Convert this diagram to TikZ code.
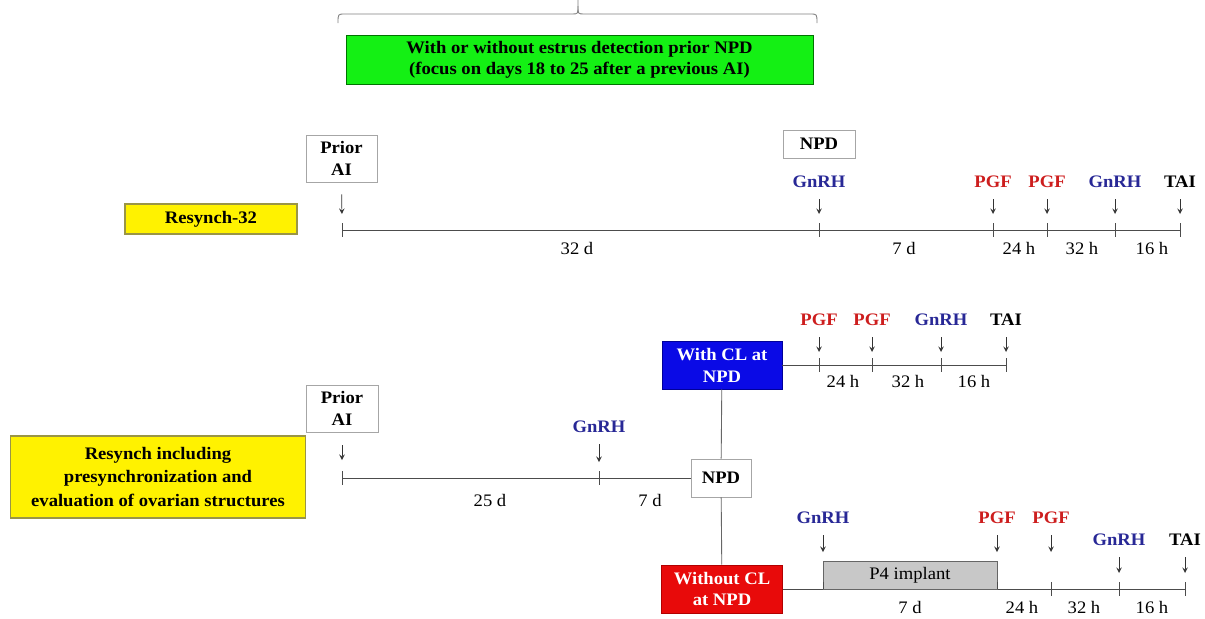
\documentclass[tikz,border=0pt]{standalone}
\usepackage{fontspec}
\setmainfont[FakeStretch=1.06]{Liberation Serif}
\usetikzlibrary{arrows}
\definecolor{gnrhblue}{RGB}{40,40,150}
\definecolor{pgfred}{RGB}{205,30,30}
\definecolor{detgreen}{RGB}{20,240,20}
\definecolor{clblue}{RGB}{10,10,230}
\definecolor{clred}{RGB}{232,10,10}
\definecolor{implgray}{RGB}{200,200,200}
\tikzstyle{protocol} = [rectangle, draw=black!45!yellow, fill=yellow, align=center, line width=0.6pt, font=\bfseries\fontsize{10}{13.6}\selectfont]
\tikzstyle{event} = [rectangle, draw=black!35, fill=white, align=center, inner sep=1pt, font=\bfseries\fontsize{10}{12.5}\selectfont]
\tikzstyle{status} = [rectangle, align=center, text=white, minimum width=2.4cm, minimum height=0.96cm, font=\bfseries\fontsize{10}{12.5}\selectfont]
\tikzstyle{gnrh} = [text=gnrhblue, font=\bfseries\fontsize{10}{12}\selectfont]
\tikzstyle{pgf} = [text=pgfred, font=\bfseries\fontsize{10}{12}\selectfont]
\tikzstyle{tai} = [text=black, font=\bfseries\fontsize{10}{12}\selectfont]
\tikzstyle{span} = [font=\fontsize{10}{12}\selectfont]
\tikzstyle{timeline} = [black!70, line width=0.5pt]
\tikzstyle{arrow} = [->,>=stealth, black!80, shorten <=0.1cm, shorten >=0.32cm]

\begin{document}
\begin{tikzpicture}[x=0.02cm, y=-0.02cm]
\useasboundingbox (0,0) rectangle (1205,619);

% top: estrus detection
\draw [black!50, line width=0.5pt] (338,23) .. controls (338,14) .. (345,14) -- (572,14) .. controls (578,14) .. (578,6) -- (578,0);
\draw [black!50, line width=0.5pt] (817,23) .. controls (817,14) .. (810,14) -- (584,14) .. controls (578,14) .. (578,6);
\node (detection) [rectangle, draw=green!45!black, fill=detgreen, minimum width=9.34cm, minimum height=0.92cm, align=center, font=\bfseries\fontsize{10}{12}\selectfont] at (579.5,60) {With or without estrus detection prior NPD\\(focus on days 18 to 25 after a previous AI)};

% Resynch-32
\node (resynch32) [protocol, minimum width=3.44cm, minimum height=0.6cm] at (211,219) {Resynch-32};
\node (r32prior) [event, minimum width=1.42cm, minimum height=0.94cm] at (341.5,158.5) {Prior\\AI};
\node (r32npd) [event, minimum width=1.44cm, minimum height=0.56cm] at (819,144) {NPD};
\coordinate (r32ai) at (342,230);
\coordinate (r32gnrh) at (819,230);
\coordinate (r32pgfa) at (993,230);
\coordinate (r32pgfb) at (1047,230);
\coordinate (r32gnrhb) at (1115,230);
\coordinate (r32tai) at (1180,230);
\node (r32gnrhlab) [gnrh] at (819,182) {GnRH};
\node (r32pgfalab) [pgf] at (993,182) {PGF};
\node (r32pgfblab) [pgf] at (1047,182) {PGF};
\node (r32gnrhblab) [gnrh] at (1115,182) {GnRH};
\node (r32tailab) [tai] at (1180,182) {TAI};
\draw [timeline] (r32ai) -- (r32tai);
\draw [timeline] (r32ai) +(0,-7) -- +(0,7);
\draw [timeline] (r32gnrh) +(0,-7) -- +(0,7);
\draw [timeline] (r32pgfa) +(0,-7) -- +(0,7);
\draw [timeline] (r32pgfb) +(0,-7) -- +(0,7);
\draw [timeline] (r32gnrhb) +(0,-7) -- +(0,7);
\draw [timeline] (r32tai) +(0,-7) -- +(0,7);
\draw [arrow, shorten <=0.24cm] (r32prior) -- (r32ai);
\draw [arrow] (r32gnrhlab) -- (r32gnrh);
\draw [arrow] (r32pgfalab) -- (r32pgfa);
\draw [arrow] (r32pgfblab) -- (r32pgfb);
\draw [arrow] (r32gnrhblab) -- (r32gnrhb);
\draw [arrow] (r32tailab) -- (r32tai);
\node [span] at (577,248) {32 d};
\node [span] at (904,248) {7 d};
\node [span] at (1019,248) {24 h};
\node [span] at (1082,248) {32 h};
\node [span] at (1152,248) {16 h};

% Resynch with presynchronization
\node (presynch) [protocol, minimum width=5.92cm, minimum height=1.64cm] at (158,477) {Resynch including\\presynchronization and\\evaluation of ovarian structures};
\node (preprior) [event, minimum width=1.44cm, minimum height=0.94cm] at (342,408.5) {Prior\\AI};
\node (prenpd) [event, minimum width=1.2cm, minimum height=0.76cm] at (721,478) {NPD};
\coordinate (preai) at (342,478);
\coordinate (pregnrh) at (599,478);
\node (pregnrhlab) [gnrh] at (599,427) {GnRH};
\draw [timeline] (preai) -- (prenpd);
\draw [timeline] (preai) +(0,-7) -- +(0,7);
\draw [timeline] (pregnrh) +(0,-7) -- +(0,7);
\draw [arrow, shorten <=0.26cm, shorten >=0.36cm] (preprior) -- (preai);
\draw [arrow] (pregnrhlab) -- (pregnrh);
\node [span] at (490,500) {25 d};
\node [span] at (650,500) {7 d};

% with CL at NPD
\node (withcl) [status, fill=clblue, draw=blue!60!black] at (722,365) {With CL at\\NPD};
\coordinate (clpgfa) at (819,365);
\coordinate (clpgfb) at (872,365);
\coordinate (clgnrh) at (941,365);
\coordinate (cltai) at (1006,365);
\node (clpgfalab) [pgf] at (819,320) {PGF};
\node (clpgfblab) [pgf] at (872,320) {PGF};
\node (clgnrhlab) [gnrh] at (941,320) {GnRH};
\node (cltailab) [tai] at (1006,320) {TAI};
\draw [timeline] (withcl) -- (cltai);
\draw [timeline] (clpgfa) +(0,-7) -- +(0,7);
\draw [timeline] (clpgfb) +(0,-7) -- +(0,7);
\draw [timeline] (clgnrh) +(0,-7) -- +(0,7);
\draw [timeline] (cltai) +(0,-7) -- +(0,7);
\draw [arrow, shorten >=0.26cm] (clpgfalab) -- (clpgfa);
\draw [arrow, shorten >=0.26cm] (clpgfblab) -- (clpgfb);
\draw [arrow, shorten >=0.26cm] (clgnrhlab) -- (clgnrh);
\draw [arrow, shorten >=0.26cm] (cltailab) -- (cltai);
\node [span] at (843,381) {24 h};
\node [span] at (908,381) {32 h};
\node [span] at (974,381) {16 h};

% without CL at NPD
\node (nocl) [status, fill=clred, draw=red!70!black, minimum width=2.42cm] at (722,589) {Without CL\\at NPD};
\draw [black!60, line width=0.5pt] (withcl) -- (prenpd) -- (nocl);
\coordinate (ngnrh) at (823,589);
\coordinate (npgfa) at (997,589);
\coordinate (npgfb) at (1051,589);
\coordinate (ngnrhb) at (1119,589);
\coordinate (ntai) at (1185,589);
\node (ngnrhlab) [gnrh] at (823,518) {GnRH};
\node (npgfalab) [pgf] at (997,518) {PGF};
\node (npgfblab) [pgf] at (1051,518) {PGF};
\node (ngnrhblab) [gnrh] at (1119,540) {GnRH};
\node (ntailab) [tai] at (1185,540) {TAI};
\draw [timeline] (nocl) -- (ntai);
\node (implant) [rectangle, draw=black!60, fill=implgray, minimum width=3.48cm, minimum height=0.54cm, span] at (910,575.5) {P4 implant};
\draw [timeline] (ngnrh) +(0,-7) -- +(0,0);
\draw [timeline] (npgfa) +(0,-7) -- +(0,0);
\draw [timeline] (npgfb) +(0,-7) -- +(0,7);
\draw [timeline] (ngnrhb) +(0,-7) -- +(0,7);
\draw [timeline] (ntai) +(0,-7) -- +(0,7);
\draw [arrow, shorten >=0.74cm] (ngnrhlab) -- (ngnrh);
\draw [arrow, shorten >=0.74cm] (npgfalab) -- (npgfa);
\draw [arrow, shorten >=0.74cm] (npgfblab) -- (npgfb);
\draw [arrow] (ngnrhblab) -- (ngnrhb);
\draw [arrow] (ntailab) -- (ntai);
\node [span] at (910,607) {7 d};
\node [span] at (1022,607) {24 h};
\node [span] at (1084,607) {32 h};
\node [span] at (1152,607) {16 h};
\end{tikzpicture}
\end{document}
